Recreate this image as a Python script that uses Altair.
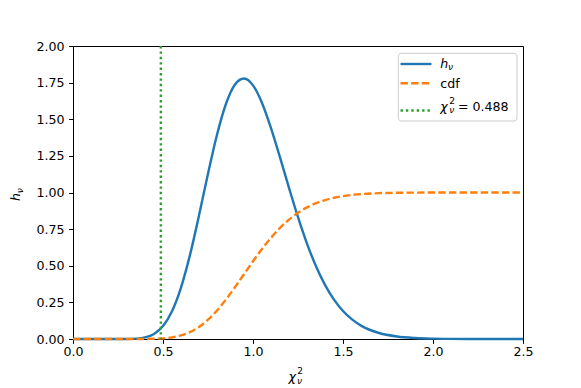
import altair as alt
import pandas as pd

# values
x_vals = [0.0, 0.1, 0.2, 0.25, 0.30, 0.35, 0.40, 0.45, 0.50, 0.55, 0.60, 0.65, 0.70,
          0.75, 0.80, 0.85, 0.90, 0.95, 1.00, 1.05, 1.10, 1.15, 1.20, 1.25, 1.30,
          1.35, 1.40, 1.45, 1.50, 1.55, 1.60, 1.70, 1.80, 1.90, 2.00, 2.10, 2.20,
          2.30, 2.40, 2.50]
h_vals = [0.0, 0.0, 0.000002, 0.00004, 0.0004, 0.0025, 0.0106, 0.0343, 0.0883, 0.1897,
          0.3513, 0.5740, 0.8426, 1.1282, 1.3942, 1.6057, 1.7375, 1.7783, 1.7314,
          1.6114, 1.4398, 1.2394, 1.0312, 0.8315, 0.6514, 0.4970, 0.3699, 0.2690,
          0.1915, 0.1337, 0.0915, 0.0408, 0.0171, 0.0068, 0.0025, 0.0009, 0.0003,
          0.0001, 0.0, 0.0]
cdf_vals = [0.0, 0.0, 0.0, 0.0, 0.00001, 0.00007, 0.0004, 0.0014, 0.0044, 0.0111,
            0.0244, 0.0472, 0.0824, 0.1315, 0.1947, 0.2699, 0.3539, 0.4423, 0.5305,
            0.6144, 0.6910, 0.7581, 0.8148, 0.8613, 0.8982, 0.9268, 0.9483, 0.9641,
            0.9755, 0.9836, 0.9891, 0.9954, 0.9982, 0.9993, 0.9997, 0.9999, 1.0, 1.0,
            1.0, 1.0]
chi2_obs = [0.488]
x_ticks = [0.0, 0.5, 1.0, 1.5, 2.0, 2.5]
y_ticks = [0.0, 0.25, 0.5, 0.75, 1.0, 1.25, 1.5, 1.75, 2.0]

C0, C1, C2 = "#1f77b4", "#ff7f0e", "#2ca02c"
FONT = "DejaVu Sans"
FS = 12.6
LW = 2.4
DASH = [7.4, 3.2]
DOT = [2.4, 3.0]

df = pd.DataFrame({"x": x_vals, "h": h_vals, "cdf": cdf_vals})
vdf = pd.DataFrame({"x": chi2_obs})

xscale = alt.Scale(domain=[0, 2.5], nice=False, zero=False)
yscale = alt.Scale(domain=[0, 2.0], nice=False)
xaxis = alt.Axis(values=x_ticks, format=".1f", title=None, grid=False,
                 labelOverlap=False, labelFlush=False)
yaxis = alt.Axis(values=y_ticks, format=".2f", title=None, grid=False,
                 labelOverlap=False, labelFlush=False)

base = alt.Chart(df)
h_line = base.mark_line(color=C0, strokeWidth=LW, interpolate="monotone").encode(
    x=alt.X("x:Q", scale=xscale, axis=xaxis),
    y=alt.Y("h:Q", scale=yscale, axis=yaxis),
)
cdf_line = base.mark_line(color=C1, strokeWidth=LW, strokeDash=DASH,
                          interpolate="monotone").encode(
    x=alt.X("x:Q", scale=xscale, axis=xaxis),
    y=alt.Y("cdf:Q", scale=yscale, axis=yaxis),
)
vline = alt.Chart(vdf).mark_rule(color=C2, strokeWidth=LW, strokeDash=DOT).encode(
    x=alt.X("x:Q", scale=xscale, axis=xaxis)
)


def one():
    return alt.Chart(pd.DataFrame({"t": [""]}))


def txt(s, x, y, size=FS, italic=False, angle=0):
    kw = dict(align="left", baseline="alphabetic", font=FONT, fontSize=size,
              color="black", fontStyle="italic" if italic else "normal")
    if angle:
        kw["angle"] = angle
    return alt.Chart(pd.DataFrame({"t": [s]})).mark_text(**kw).encode(
        x=alt.value(x), y=alt.value(y), text="t:N")


# legend box
leg_box = one().mark_rect(fill="white", fillOpacity=0.8, stroke="#cccccc",
                          strokeWidth=1, cornerRadius=3).encode(
    x=alt.value(325.3), x2=alt.value(444), y=alt.value(7.3), y2=alt.value(75))
leg_l1 = one().mark_rule(color=C0, strokeWidth=LW).encode(
    x=alt.value(327.5), x2=alt.value(358.5), y=alt.value(18))
leg_l2 = one().mark_rule(color=C1, strokeWidth=LW, strokeDash=DASH).encode(
    x=alt.value(327.5), x2=alt.value(358.5), y=alt.value(37.3))
leg_l3 = one().mark_rule(color=C2, strokeWidth=LW, strokeDash=DOT).encode(
    x=alt.value(327.5), x2=alt.value(358.5), y=alt.value(64.5))

SUB = 9.0
legend_texts = [
    txt("h", 367.3, 21.5, italic=True),
    txt("ν", 375.0, 24.0, size=SUB, italic=True),
    txt("cdf", 367.3, 41.5),
    txt("χ", 367.3, 64.7, italic=True),
    txt("2", 376.3, 58.0, size=SUB),
    txt("ν", 376.3, 67.2, size=SUB, italic=True),
    txt("= 0.488", 385.0, 64.7),
]

titles = [
    txt("χ", 215.6, 335.0, italic=True),
    txt("2", 224.3, 327.5, size=SUB),
    txt("ν", 224.0, 337.5, size=SUB, italic=True),
    txt("h", -52.7, 155.0, italic=True, angle=270),
    txt("ν", -50.2, 147.3, size=SUB, italic=True, angle=270),
]

chart = alt.layer(
    h_line, cdf_line, vline, leg_box, leg_l1, leg_l2, leg_l3, *legend_texts, *titles
).properties(
    width=450, height=293,
    autosize=alt.AutoSizeParams(type="none"),
    padding={"left": 65, "top": 38, "right": 50, "bottom": 47},
).configure_view(
    stroke="black", strokeWidth=1
).configure_axis(
    labelFont=FONT, labelFontSize=FS, labelColor="black",
    domainColor="black", domainWidth=1, tickColor="black", tickWidth=1,
    tickSize=4.4,
).configure_axisX(labelPadding=2.5).configure_axisY(labelPadding=4.5)

chart.save("out.html", embed_options={"renderer": "svg", "actions": False})
